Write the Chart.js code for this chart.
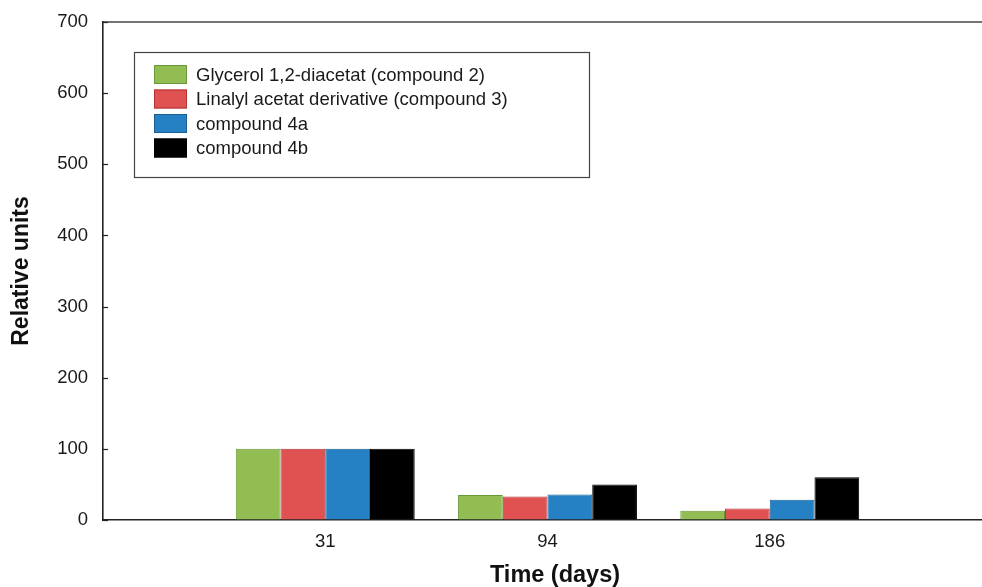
<!DOCTYPE html>
<html>
<head>
<meta charset="utf-8">
<script src="https://cdn.jsdelivr.net/npm/chart.js@4/dist/chart.umd.min.js"></script>
<style>
  html, body { margin: 0; padding: 0; background: #fff; overflow: hidden; }
  canvas { display: block; }
</style>
</head>
<body>
<canvas id="c" width="982" height="587"></canvas>
<script>
// Sampling days and the relative amount of each compound
const days = ['31', '94', '186'];
const dayPositions = [1, 2, 3];
const glycerolDiacetat = [100, 35, 13];
const linalylAcetat = [100, 33, 16];
const compound4a = [100, 36, 28.5];
const compound4b = [100, 50, 60];
const yTicks = [0, 100, 200, 300, 400, 500, 600, 700];

const FONT = '"Liberation Sans", Arial, Helvetica, sans-serif';

function points(values) {
  return values.map((v, i) => ({ x: dayPositions[i], y: v }));
}

const seriesDefs = [
  { label: 'Glycerol 1,2-diacetat (compound 2)', values: glycerolDiacetat, fill: '#92bd52', edge: '#6a9838' },
  { label: 'Linalyl acetat derivative (compound 3)', values: linalylAcetat, fill: '#e05252', edge: '#b43434' },
  { label: 'compound 4a', values: compound4a, fill: '#2581c4', edge: '#1b5f96' },
  { label: 'compound 4b', values: compound4b, fill: '#000000', edge: '#000000' }
];

// Boxed legend inside the plot, inward y ticks, top frame line, x title
const decorations = {
  id: 'decorations',
  afterDraw(chart) {
    const ctx = chart.ctx;
    const area = chart.chartArea;
    const y = chart.scales.y;
    ctx.save();

    // top frame line
    ctx.strokeStyle = '#444';
    ctx.lineWidth = 1.5;
    ctx.beginPath();
    ctx.moveTo(area.left, area.top);
    ctx.lineTo(area.right, area.top);
    ctx.stroke();

    // inward tick marks on the y axis
    ctx.strokeStyle = '#222';
    ctx.lineWidth = 1.2;
    y.ticks.forEach(t => {
      const py = Math.round(y.getPixelForValue(t.value)) + 0.5;
      ctx.beginPath();
      ctx.moveTo(area.left, py);
      ctx.lineTo(area.left + 5, py);
      ctx.stroke();
    });

    // legend box
    const bx = 134, by = 52, bw = 455, bh = 125;
    ctx.fillStyle = '#fff';
    ctx.fillRect(bx, by, bw, bh);
    ctx.strokeStyle = '#444';
    ctx.lineWidth = 1.2;
    ctx.strokeRect(bx + 0.5, by + 0.5, bw, bh);

    ctx.font = '18.5px ' + FONT;
    ctx.textBaseline = 'middle';
    ctx.textAlign = 'left';
    chart.data.datasets.forEach((ds, i) => {
      const cy = 74.5 + i * 24.5;
      ctx.fillStyle = ds.backgroundColor;
      ctx.fillRect(154, cy - 9.5, 33, 19);
      ctx.strokeStyle = ds.borderColor;
      ctx.lineWidth = 1;
      ctx.strokeRect(154.5, cy - 9, 32, 18);
      ctx.fillStyle = '#1a1a1a';
      ctx.fillText(ds.label, 196, cy + 1);
    });

    // x axis title
    ctx.font = 'bold 23.5px ' + FONT;
    ctx.fillStyle = '#111';
    ctx.textAlign = 'center';
    ctx.textBaseline = 'middle';
    ctx.fillText('Time (days)', 555, 576);

    ctx.restore();
  }
};

new Chart(document.getElementById('c'), {
  type: 'bar',
  data: {
    datasets: seriesDefs.map(s => ({
      label: s.label,
      data: points(s.values),
      backgroundColor: s.fill,
      borderColor: s.edge,
      borderWidth: 1,
      categoryPercentage: 0.805,
      barPercentage: 1
    }))
  },
  options: {
    responsive: false,
    devicePixelRatio: 1,
    animation: false,
    layout: { padding: { top: 22, right: 0, left: 0, bottom: 0 } },
    plugins: {
      legend: { display: false },
      tooltip: { enabled: false }
    },
    scales: {
      x: {
        type: 'linear',
        offset: false,
        min: 0,
        max: 3.955,
        afterBuildTicks(scale) {
          scale.ticks = dayPositions.map(v => ({ value: v }));
        },
        afterFit(scale) {
          scale.height = 67;
          scale.paddingLeft = 0;
          scale.paddingRight = 0;
        },
        grid: { display: true, drawOnChartArea: false, drawTicks: false },
        border: { display: true, color: '#222', width: 1.6 },
        ticks: {
          padding: 11,
          color: '#1a1a1a',
          font: { family: FONT, size: 18.5 },
          callback: (value) => days[dayPositions.indexOf(value)]
        }
      },
      y: {
        min: 0,
        max: 700,
        afterBuildTicks(scale) {
          scale.ticks = yTicks.map(v => ({ value: v }));
        },
        afterFit(scale) {
          scale.width = 103;
          scale.paddingTop = 0;
          scale.paddingBottom = 0;
        },
        grid: { display: true, drawOnChartArea: false, drawTicks: false },
        border: { display: true, color: '#222', width: 1.6 },
        ticks: {
          padding: 15,
          color: '#1a1a1a',
          font: { family: FONT, size: 18.5 }
        },
        title: {
          display: true,
          text: 'Relative units',
          color: '#111',
          font: { family: FONT, size: 23, weight: 'bold' },
          padding: { top: 8, bottom: 0 }
        }
      }
    }
  },
  plugins: [decorations]
});
</script>
</body>
</html>
